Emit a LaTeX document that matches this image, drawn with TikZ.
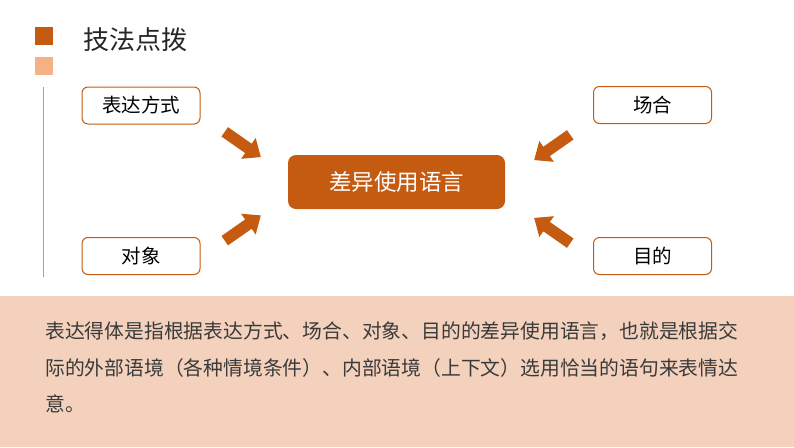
\documentclass[tikz,border=0pt]{standalone}
\usepackage{fontspec}
\usepackage{xcolor}
\usetikzlibrary{shapes.arrows}
\newfontfamily\cjk{Noto Sans CJK SC}
\definecolor{rust}{HTML}{C55A11}
\definecolor{sand}{HTML}{F4B183}
\definecolor{peach}{HTML}{F3D1BC}
\definecolor{tan}{HTML}{C09A7A}
\definecolor{ink}{HTML}{3A3A3A}

\begin{document}
\begin{tikzpicture}[x=1pt,y=-1pt,
  smallbox/.style={draw=rust,line width=1pt,rounded corners=6pt,minimum width=118pt,minimum height=37pt,font=\cjk\fontsize{19.5}{19.5}\selectfont,text=black},
  mainbox/.style={fill=rust,rounded corners=8pt,minimum width=217pt,minimum height=54pt,font=\cjk\fontsize{22.5}{22.5}\selectfont,text=white},
  blockarrow/.style={single arrow,fill=rust,inner sep=5.5pt,minimum width=25pt,minimum height=44pt,single arrow head extend=7pt,single arrow tip angle=80,single arrow head indent=0pt},
  bodyline/.style={anchor=base west,inner sep=0pt,font=\cjk\fontsize{19.8}{19.8}\selectfont,text=ink}]
  \useasboundingbox (0,0) rectangle (794,447);
  \fill[rust] (35,27) rectangle (53,45); \fill[sand] (35,57) rectangle (53,75);
  \node[anchor=west,font=\cjk\fontsize{26}{26}\selectfont,text=black!85] (title) at (80,40) {技法点拨};
  \draw[tan,line width=1pt] (43,87) -- (43,277);
  \node[smallbox] (fangshi) at (141,105.5) {表达方式};
  \node[smallbox] (changhe) at (652.5,105) {场合};
  \node[smallbox] (duixiang) at (141,256) {对象};
  \node[smallbox] (mudi) at (652.5,256) {目的};
  \node[mainbox] (yuyan) at (396.5,182) {差异使用语言};
  \node[blockarrow,rotate=-35] (arrowa) at (240,142.5) {};
  \node[blockarrow,rotate=-145] (arrowb) at (555,145.5) {};
  \node[blockarrow,rotate=35] (arrowc) at (240,230) {};
  \node[blockarrow,rotate=145] (arrowd) at (555,232.5) {};
  \fill[peach] (0,296) rectangle (794,447);
  \node[bodyline] (body1) at (45,338) {表达得体是指根据表达方式、场合、对象、目的的差异使用语言，也就是根据交};
  \node[bodyline] (body2) at (45,375) {际的外部语境（各种情境条件）、内部语境（上下文）选用恰当的语句来表情达};
  \node[bodyline] (body3) at (45,411) {意。};
\end{tikzpicture}
\end{document}
